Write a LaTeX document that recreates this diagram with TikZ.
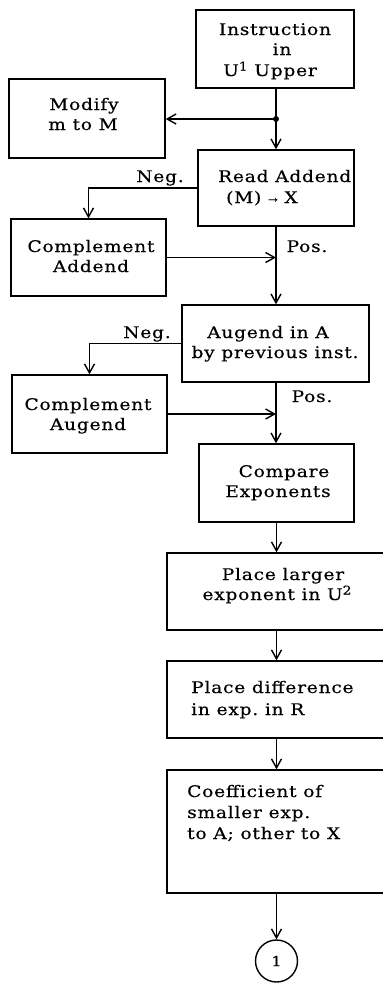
\documentclass[tikz,border=0pt]{standalone}
\usepackage{fontspec}
\setmainfont{DejaVu Serif}[FakeStretch=1.16, LetterSpace=5, FakeBold=0.4]
\usetikzlibrary{arrows.meta}
\newcommand{\supx}[1]{\raisebox{5.5pt}{\fontsize{12}{12}\selectfont #1}}
\begin{document}
\begin{tikzpicture}[x=1pt,y=-1pt,
  box/.style={draw, line width=1.4pt, rectangle, inner sep=0pt},
  lbl/.style={inner sep=0pt, font=\fontsize{16}{20.5}\selectfont, anchor=base},
  arr/.style={line width=1.4pt, -{Straight Barb[length=9pt,width=10pt,line width=1.4pt]}},
  ln/.style={line width=1.4pt}]
\useasboundingbox (0,0) rectangle (383,983);
\fill[white] (0,0) rectangle (383,983);
% boxes
\node[box, minimum width=158pt, minimum height=78pt] (I) at (275,49) {};
\node[box, minimum width=156pt, minimum height=79pt] (Mo) at (87,118.5) {};
\node[box, minimum width=156pt, minimum height=76pt] (R) at (276,188) {};
\node[box, minimum width=155pt, minimum height=77pt] (CA) at (88.5,257.5) {};
\node[box, minimum width=187pt, minimum height=77pt] (Au) at (275.5,343.5) {};
\node[box, minimum width=155pt, minimum height=78pt] (CAu) at (89.5,414) {};
\node[box, minimum width=155pt, minimum height=78pt] (Cmp) at (276.5,483) {};
\node[box, minimum width=219pt, minimum height=77pt] (PL) at (276.5,591.5) {};
\node[box, minimum width=219pt, minimum height=77pt] (PD) at (276.5,699.5) {};
\node[box, minimum width=219pt, minimum height=123pt] (Co) at (276.5,831.5) {};
\node[draw, circle, line width=1.4pt, minimum size=42pt, inner sep=0pt, font=\fontsize{14}{15}\selectfont] (C1) at (276.5,961) {1};
% texts
\node[lbl] (t1a) at (275,35) {Instruction};
\node[lbl] (t1b) at (282,55) {in};
\node[lbl] (t1c) at (270,76) {U\supx{1} Upper};
\node[lbl] (t2a) at (84,110) {Modify};
\node[lbl] (t2b) at (83,130) {m to M};
\node[lbl, anchor=base west] (t3a) at (218,182) {Read Addend};
\node[lbl, anchor=base west] (t3b) at (226,203) {(M) {\fontsize{10}{10}\selectfont →} X};
\node[lbl] (t4a) at (91,252) {Complement};
\node[lbl] (t4b) at (91,272) {Addend};
\node[lbl] (t5a) at (268,338) {Augend in A};
\node[lbl] (t5b) at (275,358) {by previous inst.};
\node[lbl] (t6a) at (88,410) {Complement};
\node[lbl] (t6b) at (88,430) {Augend};
\node[lbl] (t7a) at (284,477) {Compare};
\node[lbl] (t7b) at (278,497) {Exponents};
\node[lbl] (t8a) at (283,580) {Place larger};
\node[lbl] (t8b) at (277,600) {exponent in U\supx{2}};
\node[lbl, anchor=base west] (t9a) at (191,693) {Place difference};
\node[lbl, anchor=base west] (t9b) at (191,715) {in exp.\ in R};
\node[lbl, anchor=base west] (t10a) at (187,797) {Coefficient of};
\node[lbl, anchor=base west] (t10b) at (187,818) {smaller exp.};
\node[lbl, anchor=base west] (t10c) at (187,839) {to A; other to X};
\node[lbl] (n1) at (160,182) {Neg.};
\node[lbl] (n2) at (147,338) {Neg.};
\node[lbl] (p1) at (307,252) {Pos.};
\node[lbl] (p2) at (312,402) {Pos.};
% connectors
\coordinate (J) at (276,119);
\draw[ln] (J |- I.south) -- (J);
\fill (J) circle (3pt);
\draw[arr] (J) -- (J |- R.north);
\draw[arr] (J) -- (Mo.east |- J);
\draw[arr] (R.west) -| (CA.north);
\draw[arr] (CA.east) -- (CA.east -| J);
\draw[arr] (J |- R.south) -- (J |- Au.north);
\draw[arr] (Au.west) -| (CAu.north);
\draw[arr] (CAu.east) -- (CAu.east -| J);
\draw[arr] (J |- Au.south) -- (J |- Cmp.north);
\draw[arr] (Cmp.south) -- (PL.north);
\draw[arr] (PL.south) -- (PD.north);
\draw[arr] (PD.south) -- (Co.north);
\draw[arr] (Co.south) -- (C1.north);
\end{tikzpicture}
\end{document}
